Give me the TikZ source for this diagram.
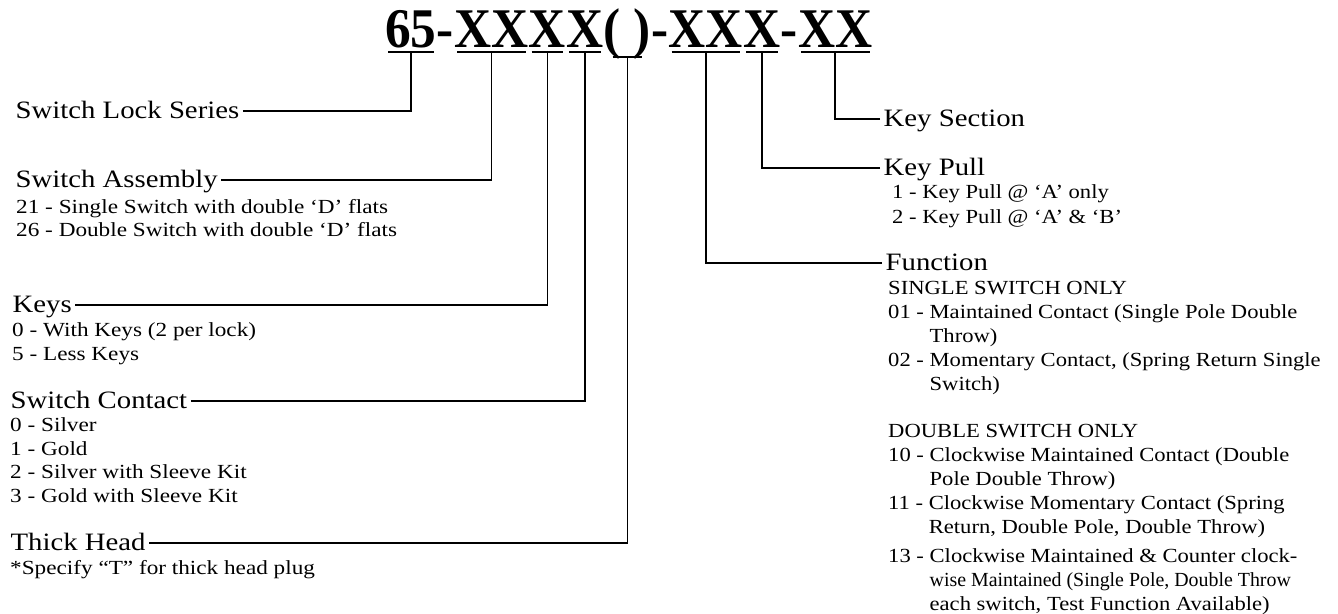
\documentclass[tikz,border=0pt]{standalone}
\usepackage{fontspec}
\setmainfont{Liberation Serif}
\usetikzlibrary{positioning}

\begin{document}
\begin{tikzpicture}[x=1pt, y=-1pt,
  ttl/.style={font=\fontsize{56}{60}\selectfont\bfseries, xscale=0.917, inner sep=0pt, anchor=base west},
  head/.style={font=\fontsize{25}{28}\selectfont, xscale=1.15, inner xsep=3pt, inner ysep=0pt, text height=14pt, text depth=0pt, anchor=base west},
  lst/.style={font=\fontsize{20}{23.5}\selectfont, xscale=1.16, inner sep=0pt, align=left, anchor=base west},
  lead/.style={line width=1.6pt},
  uline/.style={line width=2.6pt}]
\fill[white] (0,0) rectangle (1338,613);
\useasboundingbox (0,0) rectangle (1338,613);
\node[ttl] (t1) at (385,47) {65};
\node[ttl] (d1) at (t1.base east) {-};
\node[ttl] (t3) at (d1.base east) {XX};
\node[ttl] (t4) at (t3.base east) {X};
\node[ttl] (t5) at (t4.base east) {X};
\node[ttl] (t6) at (t5.base east) {( )};
\node[ttl] (d2) at (t6.base east) {-};
\node[ttl] (t8) at (d2.base east) {XX};
\node[ttl] (t9) at (t8.base east) {X};
\node[ttl] (d3) at (t9.base east) {-};
\node[ttl] (t11) at (d3.base east) {XX};
\foreach \g in {t1,t3,t4,t5,t8,t9,t11} {
  \draw[uline] ([xshift=3pt,yshift=-5pt]\g.base west) -- ([xshift=-3pt,yshift=-5pt]\g.base east);
  \coordinate (u\g) at ([yshift=-5pt]\g.base);
}
\draw[uline] ([xshift=9pt,yshift=-10pt]t6.base west) -- ([xshift=-9pt,yshift=-10pt]t6.base east);
\coordinate (ut6) at ([yshift=-10pt]t6.base);

\node[head] (lock) at (12,118) {Switch Lock Series};
\node[head] (asm) at (12,187) {Switch Assembly};
\node[lst, font=\fontsize{20}{23}\selectfont] (asmlist) at (16,236) {21 - Single Switch with double ‘D’ flats\\26 - Double Switch with double ‘D’ flats};
\node[head] (keys) at (9,312) {Keys};
\node[lst, font=\fontsize{20}{24}\selectfont] (keyslist) at (12,360) {0 - With Keys (2 per lock)\\5 - Less Keys};
\node[head] (contact) at (7,408) {Switch Contact};
\node[lst] (contactlist) at (10,502) {0 - Silver\\1 - Gold\\2 - Silver with Sleeve Kit\\3 - Gold with Sleeve Kit};
\node[head] (thick) at (7,550) {Thick Head};
\node[lst] (thicknote) at (10,574) {*Specify “T” for thick head plug};

\node[head] (sect) at (880,126) {Key Section};
\node[head] (pull) at (880,175) {Key Pull};
\node[lst, xscale=0.974, font=\fontsize{20}{25}\selectfont] (pulllist) at (892,223) {1 - Key Pull @ ‘A’ only\\2 - Key Pull @ ‘A’ \& ‘B’};
\node[head] (func) at (882,270) {Function};
\node[lst, xscale=0.974, font=\fontsize{20}{24}\selectfont] (funclist) at (888,610) {SINGLE SWITCH ONLY\\
01 - Maintained Contact (Single Pole Double\\
\phantom{01 - }Throw)\\
02 - Momentary Contact, (Spring Return Single\\
\phantom{02 - }Switch)\\[23pt]
DOUBLE SWITCH ONLY\\
10 - Clockwise Maintained Contact (Double\\
\phantom{10 - }Pole Double Throw)\\
11 - Clockwise Momentary Contact (Spring\\
\phantom{11 - }Return, Double Pole, Double Throw)\\[5pt]
13 - Clockwise Maintained \& Counter clock-\\
\phantom{13 - }\scalebox{0.88}[1]{wise Maintained (Single Pole, Double Throw}\\
\phantom{13 - }each switch, Test Function Available)};

\draw[lead] (lock.east) -| (ut1);
\draw[lead] (asm.east) -| (ut3);
\draw[lead] (keys.east) -| (ut4);
\draw[lead] (contact.east) -| (ut5);
\draw[lead] (thick.east) -| (ut6);
\draw[lead] (func.west) -| (ut8);
\draw[lead] (pull.west) -| (ut9);
\draw[lead] (sect.west) -| (ut11);
\end{tikzpicture}
\end{document}
